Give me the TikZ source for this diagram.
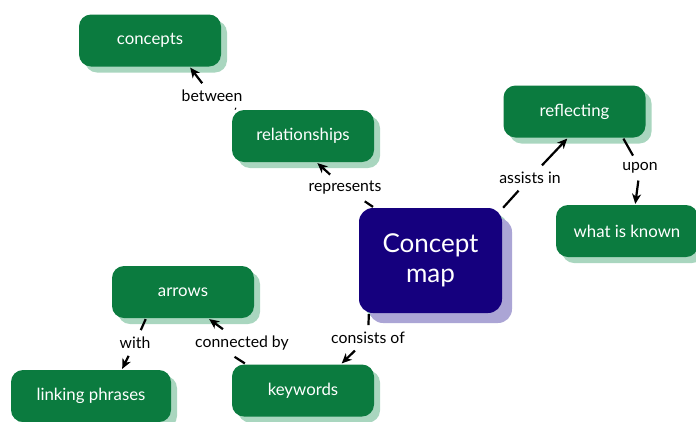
\documentclass[tikz,border=0pt]{standalone}
\usepackage{fontspec}
\setmainfont{Lato}
\usetikzlibrary{shadows,arrows.meta}
\definecolor{mapgreen}{HTML}{0B7B3F}
\definecolor{shadegreen}{HTML}{A9D6BF}
\definecolor{mapblue}{HTML}{15007E}
\definecolor{shadeblue}{HTML}{ABA5D5}

\begin{document}
\begin{tikzpicture}[x=1pt,y=-1pt,line width=2.2pt]
                \tikzstyle{concept}=[rectangle,rounded corners=12pt,fill=mapgreen,text=white,minimum width=142pt,minimum height=52pt,inner sep=0pt,font=\fontsize{16.8}{19}\selectfont,general shadow={shadow xshift=6pt,shadow yshift=-6pt,fill=shadegreen}]
                \tikzstyle{phrase}=[inner sep=5pt,font=\fontsize{15.8}{18}\selectfont]
                \useasboundingbox (0,0) rectangle (696,421);
                        \node[concept] (concepts) at (150,40.5){concepts};
                        \node[concept] (relationships) at (303,136){relationships};
                        \node[concept] (reflecting) at (574.5,111.5){reflecting};
                        \node[concept] (known) at (627,231){what is known};
                        \node[concept] (arrows) at (183,292){arrows};
                        \node[concept,minimum width=160pt] (linking) at (91,396){linking phrases};
                        \node[concept] (keywords) at (303,390.5){keywords};
                        \node[concept,fill=mapblue,rounded corners=14pt,minimum width=143pt,minimum height=105pt,align=center,font=\fontsize{26}{30}\selectfont,general shadow={shadow xshift=10pt,shadow yshift=-10pt,fill=shadeblue}] (map) at (430.5,260.5){Concept\\map};

                        \node[phrase] (between) at (212,96){between};
                        \node[phrase] (represents) at (345,188){represents};
                        \node[phrase] (assists) at (530,178){assists in};
                        \node[phrase] (upon) at (640,168){upon};
                        \node[phrase] (with) at (135,343){with};
                        \node[phrase] (connected) at (242,343){connected by};
                        \node[phrase] (consists) at (368,338){consists of};

                    \foreach \from/\to in {relationships.158.5/between, map.137.6/represents, map.36/assists, reflecting.-29/upon, map.-139/consists, keywords.155.5/connected.-122, arrows.-144/with}
                        \draw[shorten >=1pt] (\from) -- (\to);
                    \foreach \from/\to in {between/concepts.-34, represents/relationships.-62.6, assists/reflecting.-105, upon/known.73.5, consists/keywords.35, connected/arrows.-46, with/linking.41}
                        \draw[shorten <=1pt,-{Stealth[length=10pt,width=9pt,inset=3pt]}] (\from) -- (\to);
            \end{tikzpicture}
\end{document}
